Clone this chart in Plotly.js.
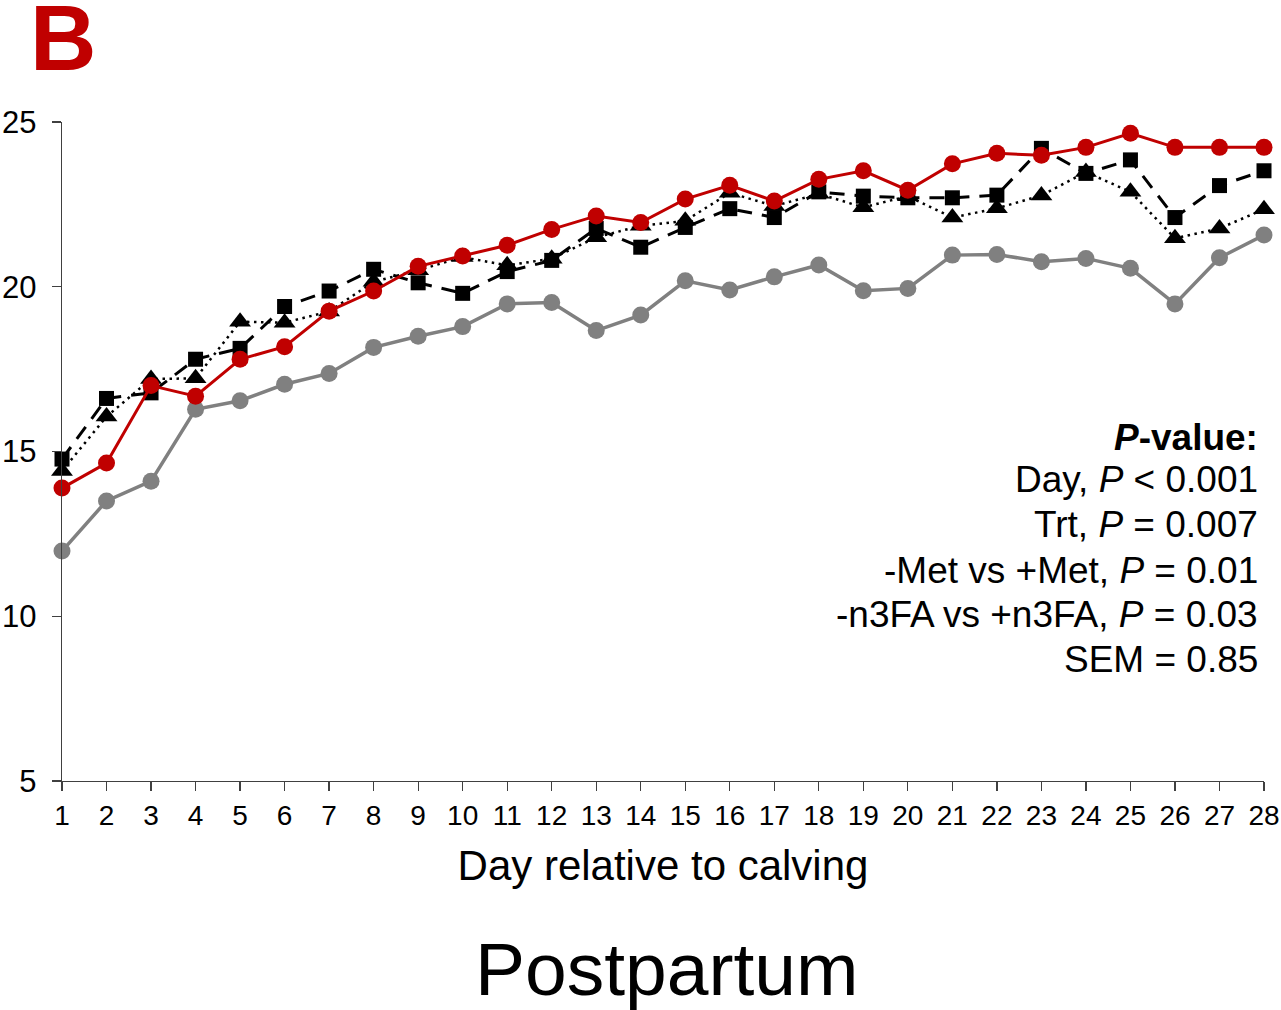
<!DOCTYPE html>
<html>
<head>
<meta charset="utf-8">
<script src="https://cdn.plot.ly/plotly-3.0.1.min.js"></script>
<style>html,body{margin:0;padding:0;background:#fff}#chart{width:1281px;height:1010px}</style>
</head>
<body>
<div id="chart"></div>
<script>
const days = [1,2,3,4,5,6,7,8,9,10,11,12,13,14,15,16,17,18,19,20,21,22,23,24,25,26,27,28];
const tickLabels = days.map(String);

const grayCircle = [11.98,13.50,14.10,16.28,16.54,17.04,17.37,18.16,18.50,18.79,19.48,19.52,18.67,19.14,20.18,19.90,20.30,20.66,19.88,19.95,20.96,20.98,20.76,20.86,20.56,19.48,20.88,21.57];
const blackSquare = [14.77,16.61,16.78,17.80,18.13,19.40,19.87,20.53,20.12,19.80,20.46,20.80,21.77,21.20,21.80,22.37,22.10,22.88,22.75,22.70,22.70,22.78,24.20,23.44,23.85,22.10,23.07,23.52];
const blackTriangle = [14.41,16.06,17.20,17.22,18.94,18.91,19.25,20.15,20.50,20.90,20.65,20.85,21.50,21.85,22.00,22.85,22.45,22.82,22.41,22.75,22.10,22.38,22.77,23.48,22.88,21.47,21.77,22.35];
const redCircle = [13.89,14.65,17.00,16.68,17.80,18.18,19.26,19.87,20.62,20.93,21.26,21.74,22.15,21.95,22.66,23.08,22.60,23.26,23.52,22.93,23.73,24.05,23.99,24.23,24.66,24.23,24.23,24.23];

const statLines = [
  "<b><i>P</i>-value:</b>",
  "Day, <i>P</i> < 0.001",
  "Trt, <i>P</i> = 0.007",
  "-Met vs +Met, <i>P</i> = 0.01",
  "-n3FA vs +n3FA, <i>P</i> = 0.03",
  "SEM = 0.85"
];
const panelLabel = "B";
const xTitle = "Day relative to calving";
const bottomLabel = "Postpartum";

const FONT = "Liberation Sans, Arial, sans-serif";

const traces = [
  {x: days, y: grayCircle, mode: 'lines+markers', cliponaxis: false,
   line: {color: '#808080', width: 3.5},
   marker: {symbol: 'circle', size: 17, color: '#808080'}},
  {x: days, y: blackSquare, mode: 'lines+markers', cliponaxis: false,
   line: {color: '#000000', width: 3, dash: '15px,10px'},
   marker: {symbol: 'square', size: 15, color: '#000000'}},
  {x: days, y: blackTriangle, mode: 'lines+markers', cliponaxis: false,
   line: {color: '#000000', width: 2.5, dash: '2.5px,4.5px'},
   marker: {symbol: 'triangle-up', size: 19, color: '#000000'}},
  {x: days, y: redCircle, mode: 'lines+markers', cliponaxis: false,
   line: {color: '#C00000', width: 3},
   marker: {symbol: 'circle', size: 17, color: '#C00000'}}
];

const lineYs = [0.522, 0.457, 0.389, 0.320, 0.252, 0.184];
const annotations = statLines.map((t, i) => ({
  text: t, xref: 'paper', yref: 'paper', x: 1, y: lineYs[i],
  xanchor: 'right', yanchor: 'middle', xshift: -4, showarrow: false,
  font: {family: FONT, size: 37, color: '#000'}
}));
annotations.push({
  text: '<b>' + panelLabel + '</b>', xref: 'paper', yref: 'paper', x: 0.001, y: 1.127,
  xanchor: 'center', yanchor: 'middle', showarrow: false,
  font: {family: FONT, size: 92, color: '#C00000'}
});
annotations.push({
  text: bottomLabel, xref: 'paper', yref: 'paper', x: 0.503, y: -0.285,
  xanchor: 'center', yanchor: 'middle', showarrow: false,
  font: {family: FONT, size: 75, color: '#000'}
});

const layout = {
  width: 1281, height: 1010,
  margin: {l: 62, r: 17, t: 122, b: 229, pad: 0},
  paper_bgcolor: '#fff', plot_bgcolor: '#fff',
  showlegend: false,
  xaxis: {
    range: [1, 28], tickmode: 'array', tickvals: days, ticktext: tickLabels,
    showgrid: false, zeroline: false, showline: true, linecolor: '#404040', linewidth: 1.3,
    ticks: 'outside', ticklen: 9, tickwidth: 1.3, tickcolor: '#404040',
    tickfont: {family: FONT, size: 28, color: '#000'},
    title: {text: xTitle, font: {family: FONT, size: 42, color: '#000'}, standoff: 20}
  },
  yaxis: {
    range: [5, 25], tickvals: [5,10,15,20,25], ticktext: ['5','10','15','20','25'],
    showgrid: false, zeroline: false, showline: true, linecolor: '#404040', linewidth: 1.3,
    ticks: 'outside', ticklen: 9, tickwidth: 1.3, tickcolor: '#404040',
    ticklabelstandoff: 9,
    tickfont: {family: FONT, size: 31, color: '#000'}
  },
  annotations: annotations
};

Plotly.newPlot('chart', traces, layout, {displayModeBar: false, staticPlot: true});
</script>
</body>
</html>
